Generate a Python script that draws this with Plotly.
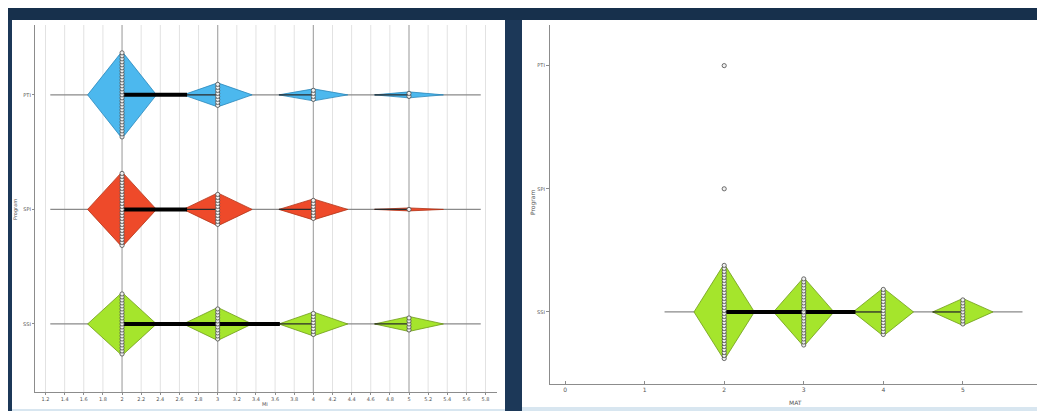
import plotly.graph_objects as go

# ---------------- data ----------------
categories = ["SSI", "SPI", "PTI"]          # bottom -> top
score_levels = [2, 3, 4, 5]

left_counts_PTI = [29, 8, 4, 2]
left_counts_SPI = [25, 11, 7, 1]
left_counts_SSI = [21, 11, 8, 5]
left_bar_end = [3.65, 2.68, 2.68]           # SSI, SPI, PTI

right_counts_PTI = [1, 0, 0, 0]
right_counts_SPI = [1, 0, 0, 0]
right_counts_SSI = [32, 23, 16, 9]
right_bar_end = [3.65, None, None]

left_xticks = [1.2, 1.4, 1.6, 1.8, 2, 2.2, 2.4, 2.6, 2.8, 3, 3.2, 3.4, 3.6, 3.8,
               4, 4.2, 4.4, 4.6, 4.8, 5, 5.2, 5.4, 5.6, 5.8]
left_xtick_labels = ["1.2", "1.4", "1.6", "1.8", "2", "2.2", "2.4", "2.6", "2.8", "3",
                     "3.2", "3.4", "3.6", "3.8", "4", "4.2", "4.4", "4.6", "4.8", "5",
                     "5.2", "5.4", "5.6", "5.8"]
right_xticks = [0, 1, 2, 3, 4, 5]
right_xtick_labels = ["0", "1", "2", "3", "4", "5"]

left_xtitle = "MI"
right_xtitle = "MAT"
ytitle = "Program"

colors = {"PTI": "#4cb8ee", "SPI": "#ee4a2a", "SSI": "#a5e52c"}
edge_colors = {"PTI": "#2b88bb", "SPI": "#b23316", "SSI": "#6e9c18"}

# the page body has an 8px margin, so the figure is placed at (8, 8)
OFF = 8
W, H = 1045 - OFF, 411 - OFF


def px(x):
    return (x - OFF) / W


def py(y):
    return 1 - (y - OFF) / H


fig = go.Figure()


def build(xa, ya, counts_dict, bar_end, hw, k):
    for idx, cat in enumerate(categories):
        counts = counts_dict[cat]
        present = [v for v, c in zip(score_levels, counts) if c > 0]
        total = sum(counts)
        if total > 1:
            fig.add_trace(go.Scatter(
                x=[min(present) - 0.75, max(present) + 0.75], y=[idx, idx],
                mode="lines", line=dict(color="#8a8a8a", width=1.2),
                xaxis=xa, yaxis=ya, showlegend=False, hoverinfo="skip"))
            for v, c in zip(score_levels, counts):
                if c <= 0:
                    continue
                h = c * k
                fig.add_trace(go.Scatter(
                    x=[v - hw, v, v + hw, v, v - hw],
                    y=[idx, idx + h, idx, idx - h, idx],
                    mode="lines", fill="toself", fillcolor=colors[cat],
                    line=dict(color=edge_colors[cat], width=0.8),
                    xaxis=xa, yaxis=ya, showlegend=False, hoverinfo="skip"))
            for v, c in zip(score_levels[1:], counts[1:]):
                if c <= 0:
                    continue
                fig.add_trace(go.Scatter(
                    x=[v - hw, v], y=[idx, idx], mode="lines",
                    line=dict(color="#2a2a2a", width=1.3),
                    xaxis=xa, yaxis=ya, showlegend=False, hoverinfo="skip"))
            if bar_end[idx] is not None:
                fig.add_trace(go.Scatter(
                    x=[min(present), bar_end[idx]], y=[idx, idx], mode="lines",
                    line=dict(color="#000000", width=4),
                    xaxis=xa, yaxis=ya, showlegend=False, hoverinfo="skip"))
        xs, ys = [], []
        for v, c in zip(score_levels, counts):
            for j in range(c):
                xs.append(v)
                ys.append(idx + (j - (c - 1) / 2) * 2 * k)
        if xs:
            fig.add_trace(go.Scatter(
                x=xs, y=ys, mode="markers",
                marker=dict(symbol="circle", size=4.2, color="#f0f0f0",
                            line=dict(color="#4a4a4a", width=0.8)),
                xaxis=xa, yaxis=ya, showlegend=False, hoverinfo="skip"))


build("x", "y", {"PTI": left_counts_PTI, "SPI": left_counts_SPI, "SSI": left_counts_SSI},
      left_bar_end, 0.36, 0.0131)
build("x2", "y2", {"PTI": right_counts_PTI, "SPI": right_counts_SPI, "SSI": right_counts_SSI},
      right_bar_end, 0.38, 0.0122)

shapes = [
    dict(type="rect", xref="paper", yref="paper", x0=0, x1=1, y0=0, y1=1,
         fillcolor="#1c3858", line=dict(width=0), layer="below"),
    dict(type="rect", xref="paper", yref="paper", x0=0, x1=1, y0=py(20), y1=1,
         fillcolor="#17304c", line=dict(width=0), layer="below"),
    dict(type="rect", xref="paper", yref="paper", x0=px(12), x1=px(505), y0=py(409), y1=py(20),
         fillcolor="#ffffff", line=dict(width=0), layer="below"),
    dict(type="rect", xref="paper", yref="paper", x0=px(12), x1=px(505), y0=0, y1=py(409),
         fillcolor="#d8e6f0", line=dict(width=0), layer="below"),
    dict(type="rect", xref="paper", yref="paper", x0=px(522), x1=px(1042), y0=py(407), y1=py(20),
         fillcolor="#ffffff", line=dict(width=0), layer="below"),
    dict(type="rect", xref="paper", yref="paper", x0=px(522), x1=px(1042), y0=0, y1=py(407),
         fillcolor="#d8e6f0", line=dict(width=0), layer="below"),
]
# vertical gridlines on left chart (integer ones darker)
for v in left_xticks:
    is_int = abs(v - round(v)) < 1e-9
    shapes.append(dict(type="line", xref="x", yref="y domain", x0=v, x1=v, y0=0, y1=1,
                       line=dict(color="#a8a8a8" if is_int else "#e2e2e2",
                                 width=1.2 if is_int else 1),
                       layer="below"))

fig.update_layout(
    width=W, height=H,
    margin=dict(l=0, r=0, t=0, b=0),
    paper_bgcolor="#ffffff",
    plot_bgcolor="rgba(0,0,0,0)",
    shapes=shapes,
    showlegend=False,
    font=dict(family="DejaVu Sans", color="#555555", size=5),
    xaxis=dict(domain=[px(35), px(497)], range=[1.09, 5.92], tickvals=left_xticks,
               ticktext=left_xtick_labels, showgrid=False,
               zeroline=False, showline=True, linecolor="#8c8c8c", linewidth=1.2,
               ticks="outside", ticklen=2, tickcolor="#8c8c8c",
               tickfont=dict(size=5, color="#555555"), anchor="y", fixedrange=True),
    yaxis=dict(domain=[py(392), py(25)], range=[-0.594, 2.61], tickvals=[0, 1, 2],
               ticktext=categories, showgrid=False, zeroline=False, showline=True,
               linecolor="#8c8c8c", linewidth=1.2, ticks="outside", ticklen=2,
               tickcolor="#8c8c8c", tickfont=dict(size=5, color="#555555"),
               anchor="x", fixedrange=True),
    xaxis2=dict(domain=[px(550), px(1040)], range=[-0.19, 5.97], tickvals=right_xticks,
                ticktext=right_xtick_labels, showgrid=False, zeroline=False, showline=True,
                linecolor="#8c8c8c", linewidth=1.2, ticks="inside", ticklen=3,
                tickcolor="#8c8c8c", tickfont=dict(size=6, color="#555555"),
                anchor="y2", fixedrange=True),
    yaxis2=dict(domain=[py(384), py(25)], range=[-0.585, 2.33], tickvals=[0, 1, 2],
                ticktext=categories, showgrid=False, zeroline=False, showline=True,
                linecolor="#8c8c8c", linewidth=1.2, ticks="outside", ticklen=3,
                tickcolor="#8c8c8c", tickfont=dict(size=5, color="#555555"),
                anchor="x2", fixedrange=True),
    annotations=[
        dict(text=ytitle, xref="paper", yref="paper", x=px(16), y=py(210), showarrow=False,
             xanchor="center", yanchor="middle",
             textangle=-90, font=dict(size=5, color="#555555")),
        dict(text=left_xtitle, xref="paper", yref="paper", x=px(265), y=py(404),
             xanchor="center", yanchor="middle",
             showarrow=False, font=dict(size=5, color="#555555")),
        dict(text=ytitle, xref="paper", yref="paper", x=px(533), y=py(203), showarrow=False,
             xanchor="center", yanchor="middle",
             textangle=-90, font=dict(size=6, color="#555555")),
        dict(text=right_xtitle, xref="paper", yref="paper", x=px(795), y=py(402),
             xanchor="center", yanchor="middle",
             showarrow=False, font=dict(size=6, color="#555555")),
    ],
)

fig.write_html("out.html")
